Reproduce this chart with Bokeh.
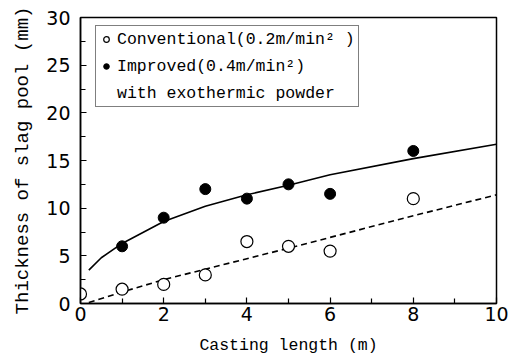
from bokeh.plotting import figure
from bokeh.models import Range1d, FixedTicker, Legend, LegendItem
from bokeh.embed import file_html
from bokeh.resources import INLINE

# data
conv_x = [0.0, 1, 2, 3, 4, 5, 6, 8]
conv_y = [1.0, 1.5, 2.0, 3.0, 6.5, 6.0, 5.5, 11.0]
impr_x = [1, 2, 3, 4, 5, 6, 8]
impr_y = [6.0, 9.0, 12.0, 11.0, 12.5, 11.5, 16.0]

fit_impr_x = [0.2, 0.5, 1, 2, 3, 4, 5, 6, 8, 10]
fit_impr_y = [3.5, 4.8, 6.3, 8.6, 10.2, 11.4, 12.4, 13.5, 15.2, 16.7]
fit_conv_x = [0.2, 1, 2, 4, 5, 8, 10]
fit_conv_y = [0.1, 1.2, 2.5, 4.7, 5.8, 9.2, 11.4]

x_ticks = [0, 2, 4, 6, 8, 10]
x_minor = [1, 3, 5, 7, 9]
y_ticks = [0, 5, 10, 15, 20, 25, 30]
y_minor = [2.5, 7.5, 12.5, 17.5, 22.5, 27.5]

legend_labels = ["Conventional(0.2m/min² )", "Improved(0.4m/min²)", "with exothermic powder"]

MONO = "Liberation Mono"
SANS = "DejaVu Sans"

p = figure(width=516, height=358, output_backend="svg", toolbar_location=None,
           x_range=Range1d(0, 10), y_range=Range1d(0, 30),
           min_border_left=80, min_border_right=20, min_border_top=17, min_border_bottom=55)

p.xgrid.visible = False
p.ygrid.visible = False
p.outline_line_color = "black"
p.outline_line_width = 1.5
p.background_fill_color = "white"
p.border_fill_color = "white"

for ax in (p.xaxis[0], p.yaxis[0]):
    ax.axis_line_width = 1.5
    ax.axis_line_color = "black"
    ax.major_tick_in = 6
    ax.major_tick_out = 0
    ax.minor_tick_in = 5
    ax.minor_tick_out = 0
    ax.major_tick_line_width = 1.2
    ax.minor_tick_line_width = 1.2
    ax.major_label_text_font = SANS
    ax.major_label_text_font_size = "19px"
    ax.major_label_text_color = "black"
    ax.axis_label_text_font = MONO
    ax.axis_label_text_font_style = "normal"
    ax.axis_label_text_color = "black"

p.xaxis.ticker = FixedTicker(ticks=x_ticks, minor_ticks=x_minor)
p.yaxis.ticker = FixedTicker(ticks=y_ticks, minor_ticks=y_minor)
p.xaxis.axis_label = "Casting length (m)"
p.yaxis.axis_label = "Thickness of slag pool (mm)"
p.xaxis.axis_label_text_font_size = "16.5px"
p.yaxis.axis_label_text_font_size = "19px"
p.xaxis.major_label_standoff = 3
p.xaxis.axis_label_standoff = 12
p.yaxis.major_label_standoff = 10
p.yaxis.axis_label_standoff = 9

l1 = p.line(fit_impr_x, fit_impr_y, line_color="black", line_width=1.6)
l2 = p.line(fit_conv_x, fit_conv_y, line_color="black", line_width=1.6, line_dash="6 4")
r_conv = p.scatter(conv_x, conv_y, marker="circle", size=12, fill_color="white",
                   line_color="black", line_width=1.2)
r_impr = p.scatter(impr_x, impr_y, marker="circle", size=11, fill_color="black",
                   line_color="black")
r_blank = p.scatter([], [], marker="circle", size=1, fill_alpha=0, line_alpha=0)

legend = Legend(items=[
    LegendItem(label=legend_labels[0], renderers=[r_conv]),
    LegendItem(label=legend_labels[1], renderers=[r_impr]),
    LegendItem(label=legend_labels[2], renderers=[r_blank]),
], location=(15, 196))
legend.label_text_font = MONO
legend.label_text_font_size = "16.5px"
legend.label_text_color = "black"
legend.label_height = 20
legend.glyph_height = 16
legend.label_standoff = 4
legend.glyph_width = 14
legend.padding = 3
legend.spacing = 7
legend.margin = 0
legend.border_line_color = "black"
legend.border_line_width = 1.2
legend.background_fill_alpha = 1.0
p.add_layout(legend, "center")

open("out.html", "w").write(file_html(p, INLINE))
